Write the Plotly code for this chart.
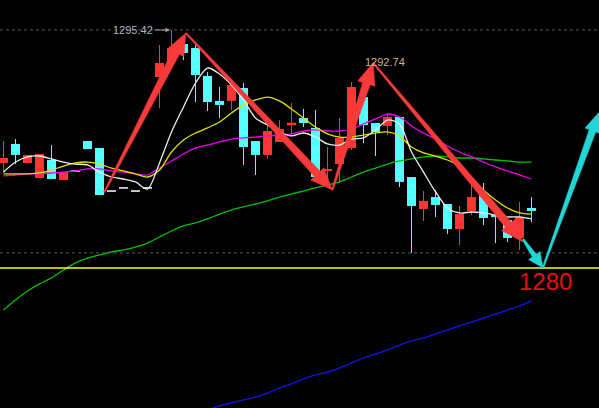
import plotly.graph_objects as go
import math

# ---------------- data ----------------
opens = [1286.80, 1288.03, 1286.80, 1285.83, 1286.99, 1285.70, 1286.28, 1288.22, 1287.77, 1284.98,
         1285.18, 1284.98, 1285.18, 1292.37, 1293.41, 1294.51, 1294.25, 1292.44, 1290.82, 1290.82,
         1291.66, 1288.22, 1287.32, 1288.16, 1289.24, 1289.71, 1289.07, 1286.28, 1286.73, 1287.77,
         1291.07, 1289.39, 1289.20, 1289.78, 1285.89, 1283.82, 1284.59, 1284.14, 1282.52, 1283.69,
         1284.72, 1283.43, 1283.10, 1281.94, 1283.88]
highs = [1288.22, 1288.35, 1287.32, 1287.38, 1287.96, 1286.21, 1286.28, 1288.22, 1287.77, 1284.98,
         1285.18, 1284.98, 1285.18, 1294.44, 1295.42, 1294.77, 1294.44, 1292.69, 1291.72, 1291.85,
         1291.98, 1288.22, 1289.39, 1289.58, 1290.69, 1290.30, 1290.23, 1287.83, 1289.71, 1292.05,
         1291.07, 1289.39, 1290.04, 1289.78, 1285.89, 1284.98, 1285.05, 1284.14, 1284.01, 1285.37,
         1285.50, 1283.75, 1283.10, 1284.27, 1284.59]
lows = [1286.15, 1286.73, 1286.80, 1285.83, 1285.76, 1285.70, 1286.28, 1287.70, 1284.72, 1284.98,
        1285.18, 1284.98, 1285.18, 1290.36, 1293.41, 1293.47, 1290.75, 1290.17, 1289.71, 1290.23,
        1286.67, 1286.02, 1287.06, 1288.16, 1288.61, 1289.13, 1285.83, 1285.50, 1285.50, 1287.64,
        1288.09, 1287.25, 1288.61, 1285.24, 1280.97, 1283.04, 1283.30, 1282.20, 1281.48, 1283.43,
        1282.78, 1281.61, 1281.68, 1281.16, 1282.97]
closes = [1287.12, 1287.32, 1287.32, 1287.38, 1285.76, 1286.21, 1286.28, 1287.70, 1284.72, 1284.98,
          1285.18, 1284.98, 1285.18, 1293.28, 1294.25, 1293.93, 1292.50, 1290.75, 1290.56, 1291.85,
          1287.83, 1287.32, 1288.87, 1289.00, 1289.41, 1289.39, 1285.89, 1286.41, 1288.42, 1291.72,
          1289.26, 1288.81, 1289.78, 1285.57, 1284.01, 1284.34, 1284.08, 1282.52, 1283.49, 1284.59,
          1283.23, 1283.30, 1281.94, 1283.30, 1283.69]

ma5 = [1286.21, 1286.86, 1287.19, 1287.25, 1287.06, 1286.86, 1286.73, 1286.67, 1286.21, 1285.89,
       1285.76, 1285.57, 1285.11, 1286.80, 1288.81, 1290.43, 1291.98, 1292.95, 1292.57, 1291.85,
       1290.88, 1289.71, 1289.26, 1288.81, 1288.55, 1288.74, 1288.48, 1288.03, 1287.96, 1288.35,
       1288.42, 1288.94, 1289.58, 1289.33, 1287.51, 1286.21, 1284.92, 1283.88, 1283.56, 1283.62,
       1283.56, 1283.43, 1283.30, 1283.30, 1283.17]
ma10 = [1286.09, 1286.09, 1286.09, 1286.15, 1286.34, 1286.60, 1286.80, 1286.86, 1286.73, 1286.47,
        1286.28, 1286.09, 1285.89, 1286.34, 1287.51, 1288.29, 1288.74, 1289.07, 1289.45, 1290.04,
        1290.56, 1290.88, 1291.07, 1290.82, 1290.30, 1289.71, 1289.13, 1288.68, 1288.48, 1288.48,
        1288.61, 1288.74, 1288.81, 1288.55, 1287.83, 1287.45, 1287.25, 1286.99, 1286.60, 1285.83,
        1285.05, 1284.40, 1283.88, 1283.56, 1283.49]
ma20 = [1285.96, 1286.02, 1286.09, 1286.09, 1286.15, 1286.21, 1286.28, 1286.41, 1286.41, 1286.28,
        1286.21, 1286.09, 1286.02, 1286.47, 1286.93, 1287.38, 1287.77, 1287.96, 1288.16, 1288.35,
        1288.42, 1288.48, 1288.55, 1288.61, 1288.68, 1288.87, 1288.94, 1288.87, 1288.87, 1289.00,
        1289.33, 1289.65, 1289.97, 1289.78, 1289.20, 1288.74, 1288.35, 1287.90, 1287.51, 1287.19,
        1286.86, 1286.54, 1286.28, 1286.02, 1285.76]
ma60 = [1277.27, 1277.92, 1278.50, 1278.96, 1279.35, 1279.86, 1280.32, 1280.64, 1280.84, 1281.03,
        1281.16, 1281.35, 1281.61, 1282.00, 1282.39, 1282.72, 1282.91, 1283.17, 1283.49, 1283.75,
        1283.95, 1284.14, 1284.34, 1284.59, 1284.79, 1284.98, 1285.18, 1285.37, 1285.57, 1285.89,
        1286.21, 1286.47, 1286.73, 1286.93, 1287.06, 1287.19, 1287.25, 1287.19, 1287.12, 1287.12,
        1287.06, 1286.99, 1286.93, 1286.86, 1286.86]
ma120 = [None] * 17 + [1270.79, 1271.05, 1271.25, 1271.44, 1271.63, 1271.89, 1272.22, 1272.48, 1272.80,
                       1273.06, 1273.25, 1273.51, 1273.84, 1274.16, 1274.42, 1274.68, 1275.00, 1275.26,
                       1275.46, 1275.72, 1275.98, 1276.24, 1276.49, 1276.75, 1277.01, 1277.27, 1277.53,
                       1277.86]

support_level = 1280.0
support_label = "1280"
high_label = "1295.42"
second_high_label = "1292.74"
second_high_level = 1293.34

# hand-drawn arrow waypoints (candle index, price)
red_path_x = [8.4, 15.2, 27.4, 30.8, 43.25]
red_path_y = [1284.90, 1295.22, 1285.05, 1293.30, 1281.70]
cyan_path_x = [43.3, 44.95, 49.65]
cyan_path_y = [1281.85, 1280.00, 1290.10]

# ---------------- styling / geometry ----------------
W, H = 599, 408
x_min, x_max = -0.2917, 49.625
y_min, y_max = 1270.92, 1297.36
RED = "#ff3535"
CYAN = "#54ffff"
BODY_W = 0.75

n = len(opens)
xs = list(range(n))

fig = go.Figure()

# wicks
def wick_trace(sel, color):
    wx, wy = [], []
    for i in sel:
        wx += [i, i, None]
        wy += [lows[i], highs[i], None]
    return go.Scatter(x=wx, y=wy, mode="lines", line=dict(color=color, width=1),
                      hoverinfo="skip", showlegend=False)

up = [i for i in xs if closes[i] > opens[i]]
dn = [i for i in xs if closes[i] < opens[i]]
flat = [i for i in xs if closes[i] == opens[i]]

fig.add_trace(wick_trace(up, RED))
fig.add_trace(wick_trace(dn, CYAN))

# bodies
for sel, color in ((up, RED), (dn, CYAN)):
    fig.add_trace(go.Bar(
        x=sel,
        y=[max(abs(closes[i] - opens[i]), 0.06) for i in sel],
        base=[min(opens[i], closes[i]) for i in sel],
        width=BODY_W, marker=dict(color=color, line=dict(width=0)),
        hoverinfo="skip", showlegend=False))

# flat (no-range) candles as white dashes
fx, fy = [], []
for i in flat:
    fx += [i - BODY_W / 2, i + BODY_W / 2, None]
    fy += [closes[i], closes[i], None]
fig.add_trace(go.Scatter(x=fx, y=fy, mode="lines", line=dict(color="#ffffff", width=1.5),
                         hoverinfo="skip", showlegend=False))

# moving averages
for vals, color in ((ma60, "#00c000"), (ma120, "#1414e6"), (ma20, "#f000f0"),
                    (ma10, "#e0e000"), (ma5, "#eeeeee")):
    fig.add_trace(go.Scatter(x=xs, y=vals, mode="lines", line=dict(color=color, width=1.3, shape="spline",
                                                                   smoothing=0.8),
                             connectgaps=False, hoverinfo="skip", showlegend=False))

# horizontal reference lines
max_high = max(highs)
min_low = min(lows)
for lvl in (max_high, min_low):
    fig.add_trace(go.Scatter(x=[x_min, x_max], y=[lvl, lvl], mode="lines",
                             line=dict(color="#5a5a5a", width=1, dash="dot"),
                             hoverinfo="skip", showlegend=False))
fig.add_trace(go.Scatter(x=[x_min, x_max], y=[support_level, support_level], mode="lines",
                         line=dict(color="#ffff00", width=1.5), hoverinfo="skip", showlegend=False))

# tapered arrows (built in screen space from the axis scales)
sx = W / (x_max - x_min)
sy = H / (y_max - y_min)

def to_px(x, y):
    return (x - x_min) * sx, (y_max - y) * sy

def from_px(X, Y):
    return x_min + X / sx, y_max - Y / sy

def arrow(xa, ya, xb, yb, w0, w1, hl, hw, color):
    X0, Y0 = to_px(xa, ya)
    X1, Y1 = to_px(xb, yb)
    L = math.hypot(X1 - X0, Y1 - Y0)
    dx, dy = (X1 - X0) / L, (Y1 - Y0) / L
    nx, ny = -dy, dx
    bx, by = X1 - dx * hl, Y1 - dy * hl
    pts = [(X0 + nx * w0 / 2, Y0 + ny * w0 / 2),
           (bx + nx * w1 / 2, by + ny * w1 / 2),
           (bx + nx * hw / 2, by + ny * hw / 2),
           (X1, Y1),
           (bx - nx * hw / 2, by - ny * hw / 2),
           (bx - nx * w1 / 2, by - ny * w1 / 2),
           (X0 - nx * w0 / 2, Y0 - ny * w0 / 2)]
    dat = [from_px(px, py) for px, py in pts]
    fig.add_trace(go.Scatter(x=[p[0] for p in dat] + [dat[0][0]], y=[p[1] for p in dat] + [dat[0][1]],
                             mode="lines", fill="toself", fillcolor=color,
                             line=dict(color=color, width=0.5), hoverinfo="skip", showlegend=False))

for k in range(len(red_path_x) - 1):
    arrow(red_path_x[k], red_path_y[k], red_path_x[k + 1], red_path_y[k + 1],
          1.5, 8, 22, 18, "#f83a3a")
arrow(cyan_path_x[0], cyan_path_y[0], cyan_path_x[1], cyan_path_y[1], 2, 5, 15, 14, "#22d6d6")
arrow(cyan_path_x[1], cyan_path_y[1], cyan_path_x[2], cyan_path_y[2], 1.5, 7, 20, 16, "#22d6d6")

# labels
hi_idx = highs.index(max_high)
fig.add_annotation(x=hi_idx - 0.13, y=max_high, text=high_label, showarrow=True,
                   ax=-37, ay=0, arrowhead=2, arrowsize=0.9, arrowwidth=1, arrowcolor="#a0a0a0",
                   font=dict(family="Liberation Sans", size=11, color="#a8b4c8"))
fig.add_annotation(x=31.8, y=second_high_level, text=second_high_label, showarrow=False,
                   font=dict(family="Liberation Sans", size=11, color="#c8b49e"))
fig.add_annotation(x=45.2, y=1279.09, text=support_label, showarrow=False,
                   xanchor="center", yanchor="middle",
                   font=dict(family="Liberation Sans", size=24, color="#e41010"))

fig.update_layout(
    width=W, height=H, margin=dict(l=0, r=0, t=0, b=0),
    paper_bgcolor="#000000", plot_bgcolor="#000000",
    barmode="overlay", showlegend=False,
    xaxis=dict(range=[x_min, x_max], visible=False, fixedrange=True),
    yaxis=dict(range=[y_min, y_max], visible=False, fixedrange=True),
)

fig.write_html("out.html", config={"displayModeBar": False},
               post_script="document.body.style.margin='0';document.body.style.padding='0';"
                           "document.body.style.background='#000';")
